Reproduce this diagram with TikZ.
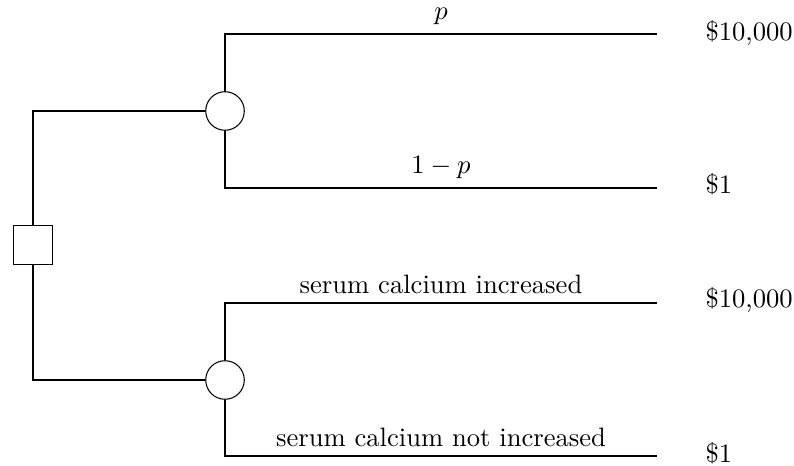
\documentclass[tikz,border=0pt]{standalone}
\begin{document}
\begin{tikzpicture}[x=0.376pt,y=-0.376pt,
  decision/.style={draw, rectangle, minimum size=14.6pt, inner sep=0pt},
  chance/.style={draw, circle, minimum size=14.5pt, inner sep=0pt},
  payoff/.style={anchor=base west, inner sep=0pt},
  prob/.style={pos=0.75, above}]
\useasboundingbox (0,0) rectangle (794,466);
\node[decision] (d) at (33,245) {};
\node[chance] (c1) at (225,111) {};
\node[chance] (c2) at (225,380) {};
\coordinate (e1) at (657,34);
\coordinate (e2) at (657,188);
\coordinate (e3) at (657,303);
\coordinate (e4) at (657,456);
\node[payoff] (v1) at (705,41) {\$10,000};
\node[payoff] (v2) at (705,194) {\$1};
\node[payoff] (v3) at (705,308) {\$10,000};
\node[payoff] (v4) at (705,462) {\$1};
\draw (d.north) |- (c1.west);
\draw (d.south) |- (c2.west);
\draw (c1.north) |- (e1) node[prob] {$p$};
\draw (c1.south) |- (e2) node[prob] {$1-p$};
\draw (c2.north) |- (e3) node[prob] {serum calcium increased};
\draw (c2.south) |- (e4) node[prob] {serum calcium not increased};
\end{tikzpicture}
\end{document}
